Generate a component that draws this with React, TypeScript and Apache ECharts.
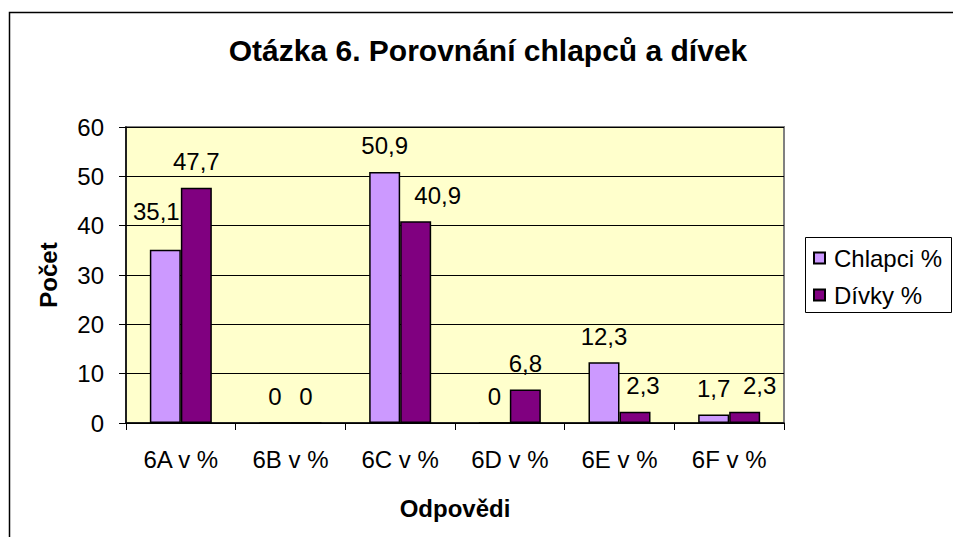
import React, { useEffect, useRef } from "react";
import * as echarts from "echarts";

const categories = ["6A v %", "6B v %", "6C v %", "6D v %", "6E v %", "6F v %"];
const chlapci = [35.1, 0, 50.9, 0, 12.3, 1.7];
const divky = [47.7, 0, 40.9, 6.8, 2.3, 2.3];
const seriesNames = ["Chlapci %", "Dívky %"];
const titleText = "Otázka 6. Porovnání chlapců a dívek";
const yName = "Počet";
const xName = "Odpovědi";

// label nudges (layout only, mimicking the original's overlap avoidance)
const chlapciNudge: Record<number, [number, number]> = { 0: [-9, -12] };
const divkyNudge: Record<number, [number, number]> = { 2: [22, 0], 4: [8, 0], 5: [15, 0] };

const FONT = "'Liberation Sans', Arial, sans-serif";

export default function App() {
  const ref = useRef<HTMLDivElement>(null);
  useEffect(() => {
    if (!ref.current) return;
    const chart = echarts.init(ref.current, null, { renderer: "svg" });
    const fmt = (p: any) => String(p.value).replace(".", ",");
    const label = {
      show: true,
      position: "top",
      distance: 14,
      formatter: fmt,
      color: "#000",
      fontSize: 24,
      fontFamily: FONT,
    };
    const build = (vals: number[], nudge: Record<number, [number, number]>) =>
      vals.map((v, i) =>
        nudge[i] ? { value: v, label: { offset: nudge[i] } } : { value: v }
      );
    chart.setOption({
      animation: false,
      backgroundColor: "#fff",
      textStyle: { fontFamily: FONT },
      grid: {
        left: 126,
        top: 127,
        width: 658,
        height: 296,
        show: true,
        backgroundColor: "#FFFFCC",
        borderColor: "#808080",
        borderWidth: 2,
      },
      xAxis: {
        type: "category",
        data: categories,
        axisLine: { lineStyle: { color: "#000", width: 1.5 } },
        axisTick: { show: true, length: 7, lineStyle: { color: "#000" } },
        axisLabel: { color: "#000", fontSize: 24, fontFamily: FONT, margin: 24 },
        name: xName,
        nameLocation: "middle",
        nameGap: 73,
        nameTextStyle: { color: "#000", fontSize: 24, fontWeight: "bold", fontFamily: FONT },
      },
      yAxis: {
        type: "value",
        min: 0,
        max: 60,
        interval: 10,
        axisLine: { show: true, lineStyle: { color: "#000", width: 1.5 } },
        axisTick: { show: true, length: 7, lineStyle: { color: "#000" } },
        axisLabel: { color: "#000", fontSize: 24, fontFamily: FONT, margin: 22 },
        splitLine: { lineStyle: { color: "#000", width: 1 } },
        name: yName,
        nameLocation: "middle",
        nameGap: 66,
        nameRotate: 90,
        nameTextStyle: { color: "#000", fontSize: 24, fontWeight: "bold", fontFamily: FONT },
      },
      legend: {
        orient: "vertical",
        left: 813,
        top: 246,
        padding: 0,
        itemWidth: 11,
        itemHeight: 11,
        itemGap: 13,
        icon: "rect",
        textStyle: { color: "#000", fontSize: 24, fontFamily: FONT, padding: [0, 0, 0, 4] },
        data: seriesNames,
      },
      graphic: [
        {
          type: "rect",
          shape: { x: 9.5, y: 12.5, width: 1000, height: 600 },
          style: { fill: "none", stroke: "#000", lineWidth: 1.5 },
          silent: true,
          z: -1,
        },
        {
          type: "rect",
          shape: { x: 805.5, y: 237.5, width: 146, height: 75 },
          style: { fill: "#fff", stroke: "#000", lineWidth: 1 },
          silent: true,
          z: -1,
        },
        {
          type: "text",
          x: 488,
          y: 50,
          style: {
            text: titleText,
            fontSize: 30,
            fontWeight: "bold",
            fontFamily: FONT,
            fill: "#000",
            align: "center",
            verticalAlign: "middle",
          },
        },
      ],
      series: [
        {
          name: seriesNames[0],
          type: "bar",
          data: build(chlapci, chlapciNudge),
          barWidth: 31,
          barGap: "0%",
          itemStyle: { color: "#CC99FF", borderColor: "#000", borderWidth: 1.5 },
          label,
        },
        {
          name: seriesNames[1],
          type: "bar",
          data: build(divky, divkyNudge),
          barWidth: 31,
          barGap: "0%",
          itemStyle: { color: "#800080", borderColor: "#000", borderWidth: 1.5 },
          label,
        },
      ],
    });
    return () => chart.dispose();
  }, []);
  return <div ref={ref} style={{ width: 953, height: 537, position: "absolute", left: 0, top: 0 }} />;
}
